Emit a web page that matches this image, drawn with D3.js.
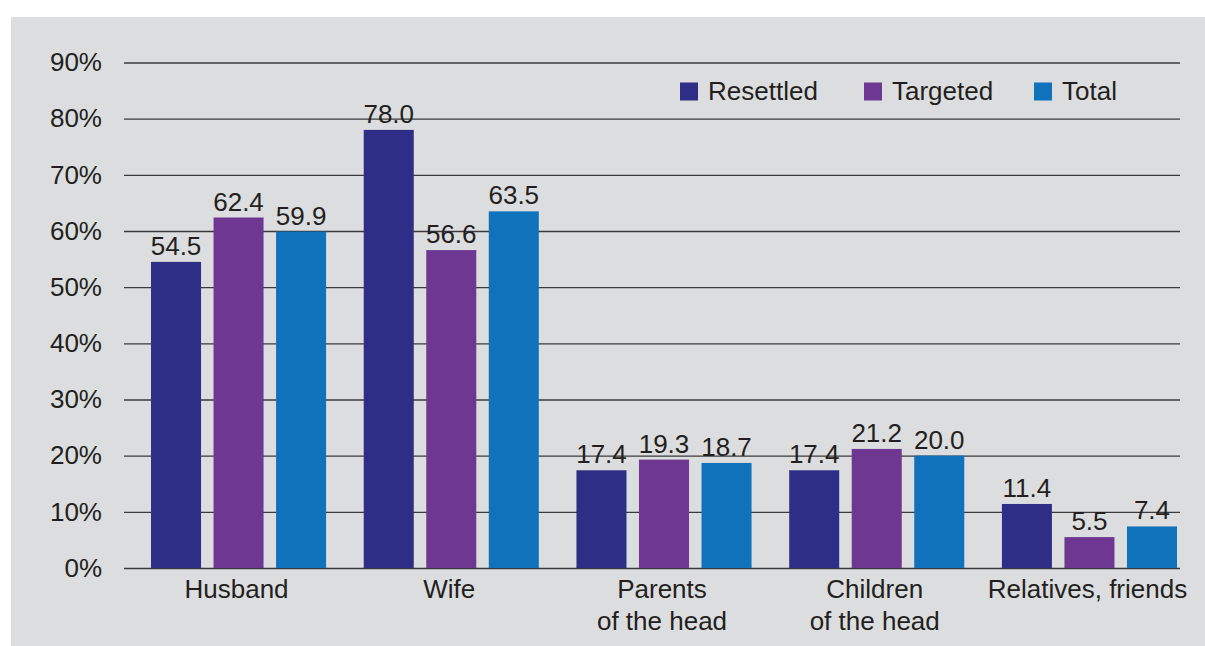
<!DOCTYPE html>
<html><head><meta charset="utf-8">
<script src="https://cdn.jsdelivr.net/npm/d3@7"></script>
<style>
body{margin:0;background:#fff;}
svg{display:block;}
text{font-family:"Liberation Sans",Arial,sans-serif;fill:#231f20;}
</style></head>
<body>
<svg id="c" width="1205" height="646"></svg>
<script>
const categories = [["Husband"],["Wife"],["Parents","of the head"],["Children","of the head"],["Relatives, friends"]];
const seriesNames = ["Resettled","Targeted","Total"];
const resettled = [54.5, 78.0, 17.4, 17.4, 11.4];
const targeted  = [62.4, 56.6, 19.3, 21.2, 5.5];
const total     = [59.9, 63.5, 18.7, 20.0, 7.4];
const colors = ["#2e2e86","#6e3792","#0f72bb"];
const yTicks = [0,10,20,30,40,50,60,70,80,90];
const FS = 26;

const svg = d3.select("#c");
svg.append("rect").attr("x",11).attr("y",17).attr("width",1194).attr("height",629).attr("fill","#dcdddf");

const y = d3.scaleLinear().domain([0,90]).range([568,62.5]);
const catIdx = categories.map((d,i)=>i);
const x0 = d3.scaleBand().domain(catIdx).range([151,1177]).paddingInner(0.177).paddingOuter(0);
const x1 = d3.scaleBand().domain([0,1,2]).range([0,x0.bandwidth()]).paddingInner(0.2);

// gridlines
const yAxis = d3.axisLeft(y).tickValues(yTicks).tickSize(-(1180-124)).tickFormat(d=>d+"%").tickPadding(22);
const gy = svg.append("g").attr("transform","translate(124,0)").call(yAxis);
gy.select(".domain").remove();
gy.selectAll(".tick line").attr("stroke","#3a3a3a").attr("stroke-width",1.3);
gy.selectAll(".tick text").attr("font-size",FS).attr("fill","#231f20").attr("font-family","Liberation Sans, Arial, sans-serif");

const data = [resettled,targeted,total];
const groups = svg.append("g").selectAll("g").data(catIdx).join("g")
  .attr("transform",i=>`translate(${x0(i)},0)`);
groups.selectAll("rect").data(i=>data.map((s,k)=>({k,v:s[i]}))).join("rect")
  .attr("x",d=>x1(d.k)).attr("width",x1.bandwidth())
  .attr("y",d=>y(d.v)).attr("height",d=>y(0)-y(d.v)).attr("fill",d=>colors[d.k]);
groups.selectAll("text.v").data(i=>data.map((s,k)=>({k,v:s[i]}))).join("text")
  .attr("class","v").attr("x",d=>x1(d.k)+x1.bandwidth()/2).attr("y",d=>y(d.v)-7)
  .attr("text-anchor","middle").attr("font-size",FS).text(d=>d.v.toFixed(1));

// category labels
const xl = svg.append("g");
categories.forEach((lines,i)=>{
  const cx = x0(i)+x0.bandwidth()/2-2;
  const t = xl.append("text").attr("x",cx).attr("y",598).attr("text-anchor","middle").attr("font-size",FS);
  lines.forEach((l,j)=>t.append("tspan").attr("x",cx).attr("dy",j?32:0).text(l));
});

// legend
const legX = [680,864,1034];
const lg = svg.append("g");
seriesNames.forEach((n,k)=>{
  lg.append("rect").attr("x",legX[k]).attr("y",82.5).attr("width",18).attr("height",18).attr("fill",colors[k]);
  lg.append("text").attr("x",legX[k]+28).attr("y",100).attr("font-size",FS).text(n);
});
</script>
</body></html>
